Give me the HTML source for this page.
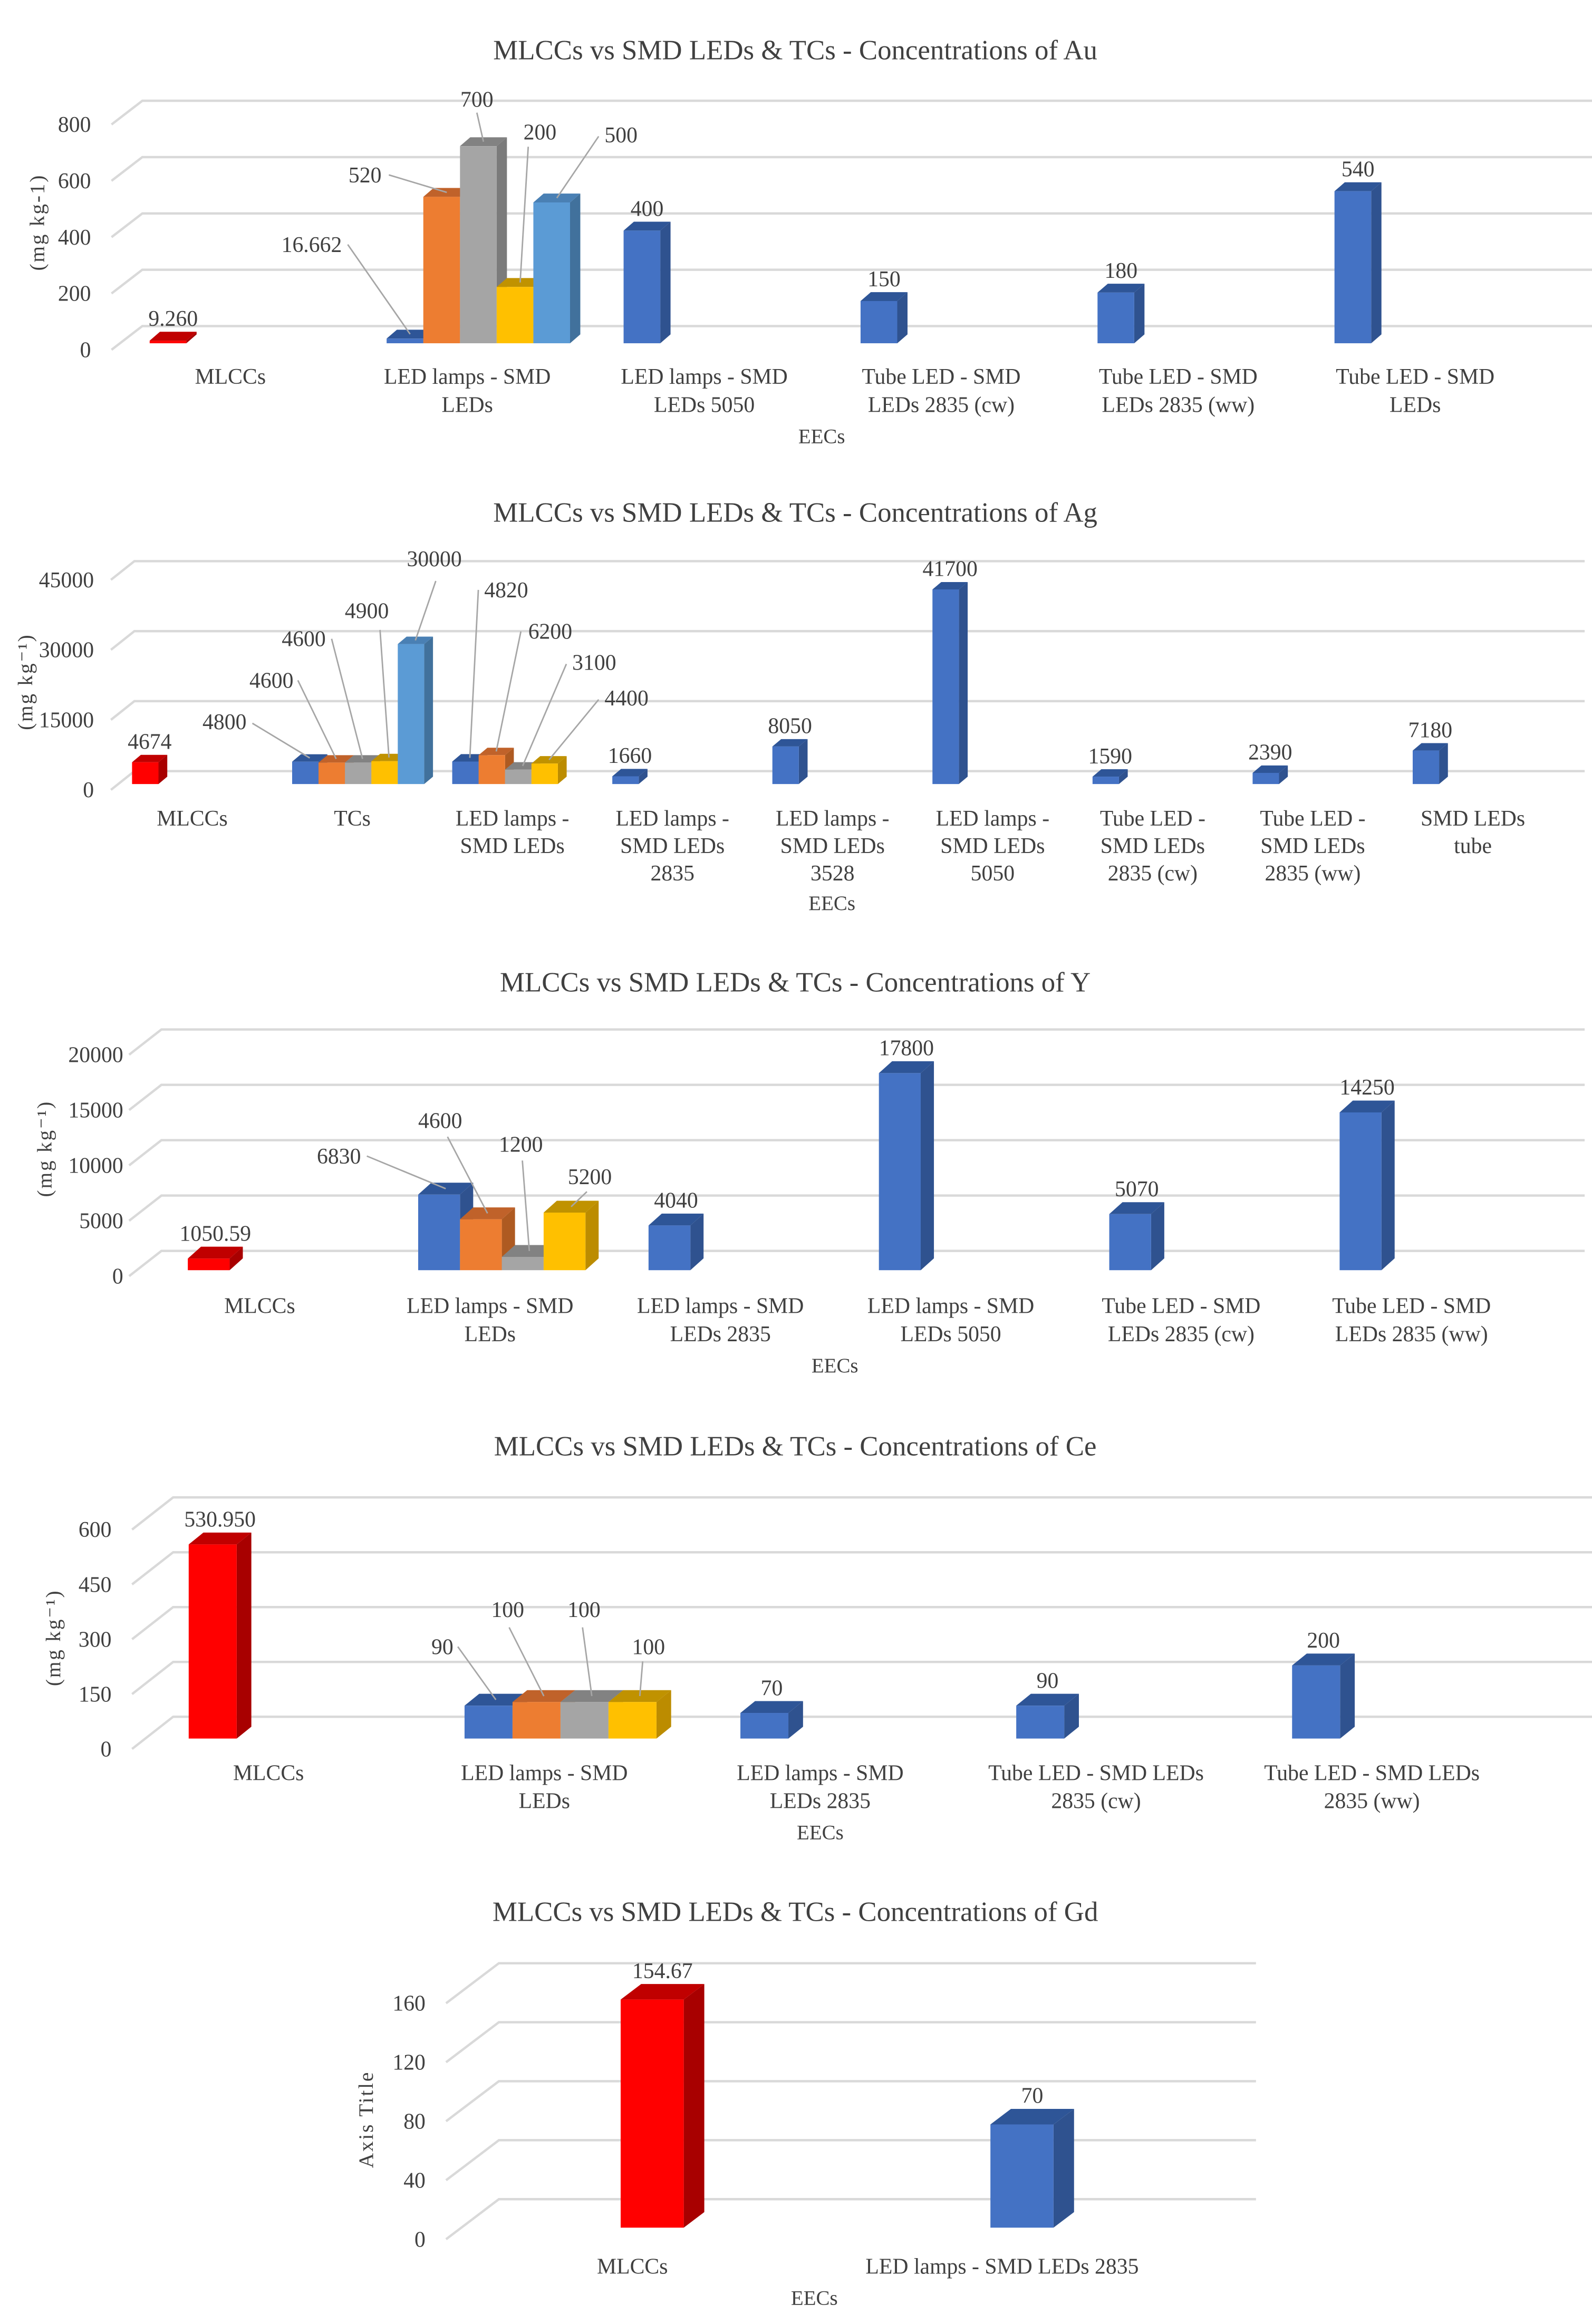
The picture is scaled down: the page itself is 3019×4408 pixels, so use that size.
<!DOCTYPE html>
<html><head><meta charset="utf-8"><style>
html,body{margin:0;padding:0;background:#fff;}
svg{display:block;}
text{font-family:"Liberation Serif",serif;fill:#404040;}
</style></head><body>
<svg id="root" width="3019" height="4408" viewBox="0 0 1085 1568" preserveAspectRatio="none" xmlns="http://www.w3.org/2000/svg"></svg>
<script>
// ---- data ----
const auCategories = ["MLCCs","LED lamps - SMD|LEDs","LED lamps - SMD|LEDs  5050","Tube LED - SMD|LEDs 2835 (cw)","Tube LED - SMD|LEDs 2835 (ww)","Tube LED - SMD|LEDs"];
const auValues = [[9.26],[16.662,520,700,200,500],[400],[150],[180],[540]];
const auLabels = [["9.260"],["16.662","520","700","200","500"],["400"],["150"],["180"],["540"]];
const auTicks = [0,200,400,600,800];

const agCategories = ["MLCCs","TCs","LED lamps -|SMD LEDs","LED lamps -|SMD LEDs|2835","LED lamps -|SMD LEDs|3528","LED lamps -|SMD LEDs|5050","Tube LED -|SMD LEDs|2835 (cw)","Tube LED -|SMD LEDs|2835 (ww)","SMD LEDs|tube"];
const agValues = [[4674],[4800,4600,4600,4900,30000],[4820,6200,3100,4400],[1660],[8050],[41700],[1590],[2390],[7180]];
const agTicks = [0,15000,30000,45000];

const yCategories = ["MLCCs","LED lamps - SMD|LEDs","LED lamps - SMD|LEDs 2835","LED lamps - SMD|LEDs 5050","Tube LED - SMD|LEDs 2835 (cw)","Tube LED - SMD|LEDs 2835 (ww)"];
const yValues = [[1050.59],[6830,4600,1200,5200],[4040],[17800],[5070],[14250]];
const yTicks = [0,5000,10000,15000,20000];

const ceCategories = ["MLCCs","LED lamps - SMD|LEDs","LED lamps - SMD|LEDs 2835","Tube LED - SMD LEDs|2835 (cw)","Tube LED - SMD LEDs|2835 (ww)"];
const ceValues = [[530.95],[90,100,100,100],[70],[90],[200]];
const ceLabels = [["530.950"],["90","100","100","100"],["70"],["90"],["200"]];
const ceTicks = [0,150,300,450,600];

const gdCategories = ["MLCCs","LED lamps - SMD LEDs 2835"];
const gdValues = [[154.67],[70]];
const gdTicks = [0,40,80,120,160];

// ---- styling ----
const NS="http://www.w3.org/2000/svg";
const root=document.getElementById('root');
const PAL={blue:["#4472c4","#2f528f","#2e5597"],orange:["#ed7d31","#ae5a21","#c0622a"],grey:["#a5a5a5","#7b7b7b","#828282"],yellow:["#ffc000","#bc8c00","#c09200"],lblue:["#5b9bd5","#41719c","#4a80b4"],red:["#ff0000","#a80000","#c00000"]};
const SERIES=["blue","orange","grey","yellow","lblue"];
function mk(tag,attrs,parent){const e=document.createElementNS(NS,tag);for(const k in attrs)e.setAttribute(k,attrs[k]);(parent||root).appendChild(e);return e;}

function drawChart(c){
  const g=mk('g',{});
  
  
  const yv=v=>c.base-v*c.k;
  // title
  const t=mk('text',{x:542,y:c.titleY,'font-size':19,'text-anchor':'middle',fill:'#595959'},g);
  t.textContent=c.title;
  
  
  // grid + ticks
  c.ticks.forEach(v=>{
    const by=c.base-c.backOff-v*c.k;
    const gl=mk('path',{d:`M${c.fx},${by+c.gdy} L${c.bx},${by} L${c.ex},${by}`,fill:'none',stroke:'#d9d9d9','stroke-width':1.6},g);
    
    
    const tl=mk('text',{x:c.lx,y:by+c.gdy+5,'font-size':15,'text-anchor':'end',fill:'#595959'},g);
    tl.textContent=String(v);
    
    
  });
  // axis title
  const at=mk('text',{x:0,y:0,'font-size':14,'text-anchor':'middle',fill:'#595959',transform:`translate(${c.atx},${c.aty}) rotate(-90)`,'letter-spacing':'1'},g);
  at.textContent=c.axisTitle;
  
  
  // categories & bars
  c.cats.forEach((cat,i)=>{
    const cx=c.c0+c.cs*i;
    const lines=cat.split('|');
    lines.forEach((ln,j)=>{
      const ct=mk('text',{x:cx,y:c.catY+j*c.lh,'font-size':15,'text-anchor':'middle',fill:'#595959'},g);
      ct.textContent=ln;
      
      
    });
    const vals=c.vals[i];
    vals.forEach((v,s)=>{
      const x=cx+c.off+s*c.w;
      const top=yv(v);
      const col=(i===0)?PAL.red:PAL[SERIES[s]];
      const bg=mk('g',{},g);
      
      
      mk('polygon',{points:`${x+c.w},${top} ${x+c.w+c.dx},${top-c.dy} ${x+c.w+c.dx},${c.base-c.dy} ${x+c.w},${c.base}`,fill:col[1]},bg);
      mk('polygon',{points:`${x},${top} ${x+c.dx},${top-c.dy} ${x+c.w+c.dx},${top-c.dy} ${x+c.w},${top}`,fill:col[2]},bg);
      mk('rect',{x:x,y:top,width:c.w,height:Math.max(0,c.base-top),fill:col[0]},bg);
      const lbl=(c.labels?c.labels[i][s]:String(v));
      const ann=c.ann&&c.ann[i]&&c.ann[i][s];
      if(ann){
        const tx=mk('text',{x:ann[0],y:ann[1],'font-size':15,'text-anchor':ann[2],fill:'#404040'},g);
        tx.textContent=lbl;
        
        
        const ln=mk('line',{x1:ann[3],y1:ann[4],x2:x+c.w/2+c.dx/2,y2:top-c.dy/2,stroke:'#a6a6a6','stroke-width':1},g);
        
        
      } else {
        const tx=mk('text',{x:x+c.w/2+c.dx/2,y:top-c.dy-4,'font-size':15,'text-anchor':'middle',fill:'#404040'},g);
        tx.textContent=lbl;
        
        
      }
    });
  });
  const ex=mk('text',{x:c.eecX,y:c.eecY,'font-size':14,'text-anchor':'middle',fill:'#595959'},g);
  ex.textContent='EECs';
  
  
}

drawChart({name:'chart-au',title:'MLCCs vs SMD LEDs & TCs - Concentrations  of Au',titleY:40,
  cats:auCategories,vals:auValues,labels:auLabels,ticks:auTicks,base:231.6,k:152/800,backOff:11.6,gdy:16,fx:76,bx:97,ex:1085,lx:62,
  axisTitle:'(mg kg-1)',atx:30,aty:150,c0:157,cs:161.5,off:-55,w:25,dx:7,dy:6,catY:259,lh:19,eecX:560,eecY:299,
  ann:{1:[[233,170,'end',237,165],[260,123,'end',265,118],[325,72,'middle',325,76],[368,94,'middle',360,99],[412,96,'start',408,92]]}});

drawChart({name:'chart-ag',title:'MLCCs vs SMD LEDs & TCs - Concentrations  of Ag',titleY:352,
  cats:agCategories,vals:agValues,ticks:agTicks,base:529,k:141.7/45000,backOff:8.7,gdy:12.6,fx:75.6,bx:91.6,ex:1080,lx:64,
  axisTitle:'(mg kg\u207B\u00B9)',atx:22,aty:460,c0:131,cs:109.1,off:-41,w:18,dx:6,dy:5,catY:557,lh:18.5,eecX:567,eecY:614,
  ann:{1:[[168,492,'end',172,488],[200,464,'end',203,459],[222,436,'end',226,431],[250,417,'middle',259,425],[296,382,'middle',297,392]],
       2:[[330,403,'start',326,398],[360,431,'start',355,426],[390,452,'start',386,448],[412,476,'start',408,472]]}});

drawChart({name:'chart-y',title:'MLCCs vs SMD LEDs & TCs - Concentrations  of Y',titleY:669,
  cats:yCategories,vals:yValues,ticks:yTicks,base:857,k:149.4/20000,backOff:13,gdy:17,fx:88,bx:110,ex:1080,lx:84,
  axisTitle:'(mg kg\u207B\u00B9)',atx:35,aty:775,c0:177,cs:157,off:-49,w:28.5,dx:9,dy:8,catY:886,lh:19,eecX:569,eecY:926,
  ann:{1:[[246,785,'end',250,780],[300,761,'middle',305,767],[355,777,'middle',356,783],[402,799,'middle',400,804]]}});

drawChart({name:'chart-ce',title:'MLCCs vs SMD LEDs & TCs - Concentrations  of Ce',titleY:982,
  cats:ceCategories,vals:ceValues,labels:ceLabels,ticks:ceTicks,base:1173,k:148/600,backOff:14.7,gdy:21.7,fx:90,bx:118,ex:1085,lx:76,
  axisTitle:'(mg kg\u207B\u00B9)',atx:41,aty:1105,c0:183,cs:188,off:-54.4,w:32.7,dx:10,dy:8,catY:1201,lh:19,eecX:559,eecY:1241,
  ann:{1:[[309,1116,'end',312,1111],[346,1091,'middle',347,1098],[398,1091,'middle',397,1098],[442,1116,'middle',438,1121]]}});

drawChart({name:'chart-gd',title:'MLCCs vs SMD LEDs & TCs - Concentrations  of Gd',titleY:1296,
  cats:gdCategories,vals:gdValues,ticks:gdTicks,base:1503,k:0.995,backOff:19.2,gdy:27,fx:304,bx:340,ex:856,lx:290,
  axisTitle:'Axis Title',atx:254,aty:1430,c0:431,cs:252,off:-8,w:43,dx:14,dy:10.5,catY:1534,lh:19,eecX:555,eecY:1555});
</script>
</body></html>
